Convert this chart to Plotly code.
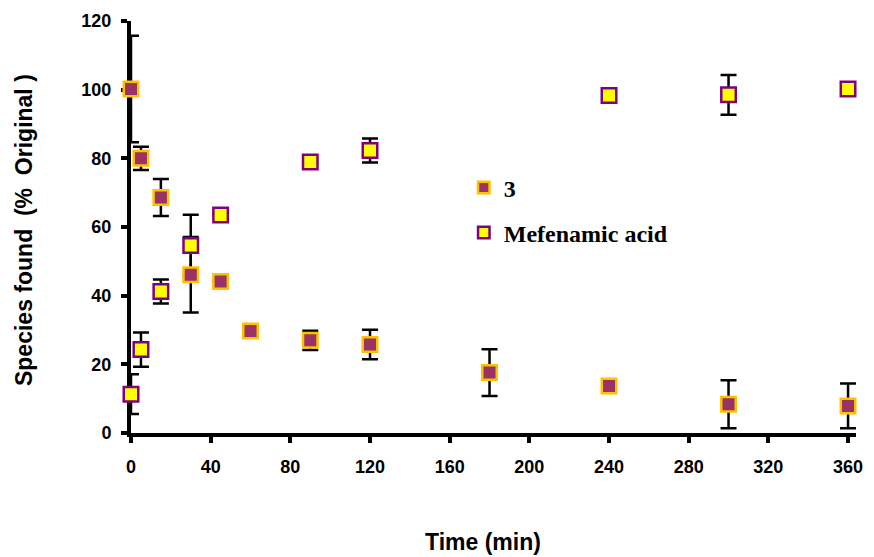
import plotly.graph_objects as go

# ---- data ----
time_3 = [0, 5, 15, 30, 45, 60, 90, 120, 180, 240, 300, 360]
pct_3 = [100.2, 80.0, 68.6, 46.1, 44.1, 29.7, 27.0, 25.8, 17.6, 13.7, 8.4, 7.9]
err_3 = [15.5, 3.4, 5.4, 11.0, 0, 0, 2.8, 4.3, 6.8, 0, 7.0, 6.5]

time_mef = [0, 5, 15, 30, 45, 90, 120, 240, 300, 360]
pct_mef = [11.3, 24.3, 41.2, 54.6, 63.5, 78.9, 82.3, 98.3, 98.5, 100.2]
err_mef = [5.8, 5.0, 3.5, 9.0, 0, 0, 3.5, 1.5, 5.8, 0]

x_ticks = [0, 40, 80, 120, 160, 200, 240, 280, 320, 360]
y_ticks = [0, 20, 40, 60, 80, 100, 120]

name_3 = "3"
name_mef = "Mefenamic acid"

# ---- styles ----
MAROON = "#993366"
GOLD = "#FFC000"
YELLOW = "#FFFF00"
PURPLE = "#800080"
SANS = "Arial, Liberation Sans, sans-serif"
SERIF = "Times New Roman, Liberation Serif, serif"

fig = go.Figure()

err_style = dict(type="data", visible=True, color="black", thickness=2.5, width=8)

# error bars first (so they sit behind all markers)
for xs, ys, es in [(time_3, pct_3, err_3), (time_mef, pct_mef, err_mef)]:
    fig.add_trace(go.Scatter(
        x=xs, y=ys, mode="markers", showlegend=False, hoverinfo="skip",
        marker=dict(size=1, opacity=0),
        error_y=dict(array=es, **err_style),
        cliponaxis=False,
    ))

fig.add_trace(go.Scatter(
    x=time_3, y=pct_3, mode="markers", name=name_3, showlegend=False,
    legendgroup="a",
    marker=dict(symbol="square", size=14.5, color=MAROON, line=dict(color=GOLD, width=2.5)),
    cliponaxis=False,
))
fig.add_trace(go.Scatter(
    x=time_mef, y=pct_mef, mode="markers", name=name_mef, showlegend=False,
    legendgroup="b",
    marker=dict(symbol="square", size=14.5, color=YELLOW, line=dict(color=PURPLE, width=2.5)),
    cliponaxis=False,
))
# legend entries (smaller swatches as in the reference)
fig.add_trace(go.Scatter(
    x=[None], y=[None], mode="markers", name=name_3, legendgroup="a",
    marker=dict(symbol="square", size=11.5, color=MAROON, line=dict(color=GOLD, width=2.5)),
))
fig.add_trace(go.Scatter(
    x=[None], y=[None], mode="markers", name=name_mef, legendgroup="b",
    marker=dict(symbol="square", size=11.5, color=YELLOW, line=dict(color=PURPLE, width=2.5)),
))

L, R, T, B = 131, 11, 19, 124
W, H = 874, 557
pw, ph = W - L - R, H - T - B

fig.update_layout(
    width=W, height=H,
    margin=dict(l=L, r=R, t=T, b=B, pad=0),
    paper_bgcolor="white", plot_bgcolor="white",
    showlegend=True,
    legend=dict(
        x=(467 - L) / pw, y=1 - (164 - T) / ph, xanchor="left", yanchor="top",
        bgcolor="rgba(0,0,0,0)", borderwidth=0,
        font=dict(family=SERIF, size=24, color="black", weight="bold"),
        traceorder="grouped", tracegroupgap=11,
        itemwidth=30,
    ),
    xaxis=dict(
        range=[0, 364], tickmode="array", tickvals=x_ticks,
        ticktext=[str(v) for v in x_ticks],
        showline=True, linecolor="black", linewidth=4, layer="below traces",
        ticks="outside", ticklen=6, tickwidth=4, tickcolor="black",
        showgrid=False, zeroline=False,
        tickfont=dict(family=SANS, size=18, color="black", weight="bold"),
        ticklabelstandoff=8,
    ),
    yaxis=dict(
        range=[0, 120], tickmode="array", tickvals=y_ticks,
        ticktext=[str(v) for v in y_ticks],
        showline=True, linecolor="black", linewidth=4, layer="below traces",
        ticks="outside", ticklen=6, tickwidth=4, tickcolor="black",
        showgrid=False, zeroline=False,
        tickfont=dict(family=SANS, size=18, color="black", weight="bold"),
        ticklabelstandoff=6,
    ),
    annotations=[
        dict(text="Time (min)", xref="paper", yref="paper",
             x=(486 - L) / pw, y=-(543 - (T + ph)) / ph,
             xanchor="center", yanchor="middle", showarrow=False,
             font=dict(family=SANS, size=23, color="black", weight="bold")),
        dict(text="Species found  (%  Original )", xref="paper", yref="paper",
             x=(23 - L) / pw, y=((T + ph) - 229) / ph, textangle=-90,
             xanchor="center", yanchor="middle", showarrow=False,
             font=dict(family=SANS, size=23, color="black", weight="bold")),
    ],
)

fig.write_html("out.html")
